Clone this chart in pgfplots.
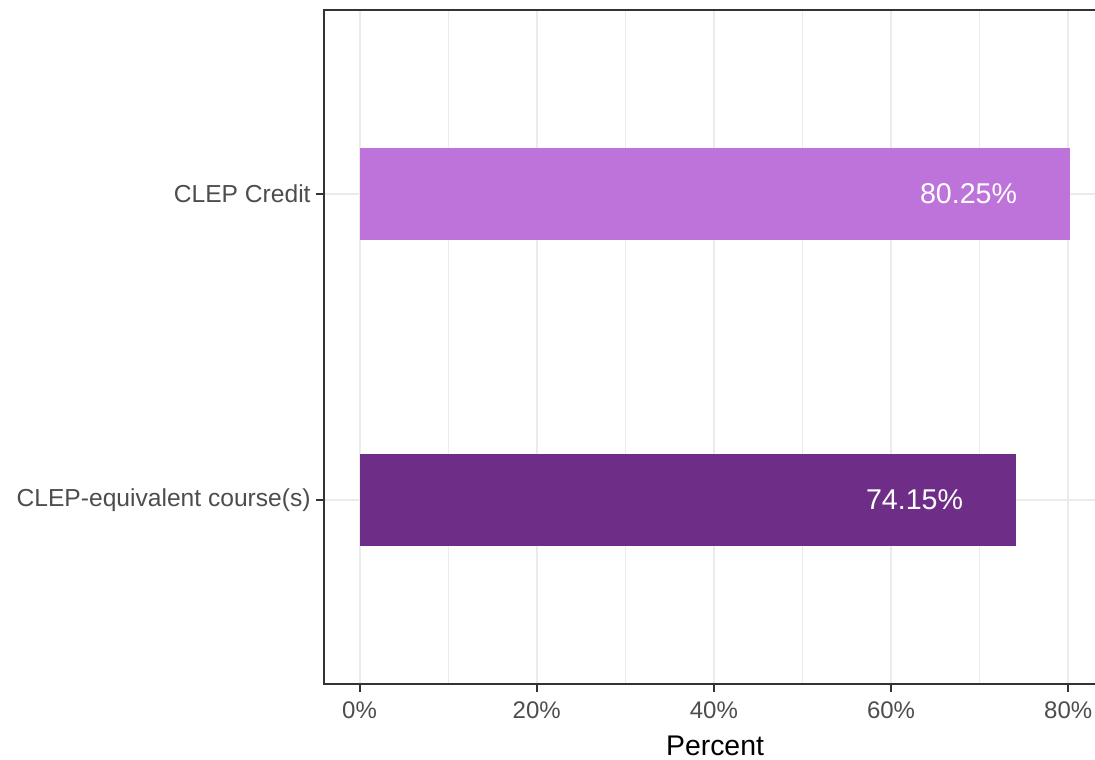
\documentclass[border=0pt]{standalone}
\usepackage{fontspec}
\setmainfont{Liberation Sans}
\usepackage{pgfplots}
\pgfplotsset{compat=1.18}
\definecolor{lightbar}{RGB}{190,115,219}
\definecolor{darkbar}{RGB}{110,45,135}
\definecolor{gridc}{RGB}{235,235,235}
\definecolor{framec}{RGB}{51,51,51}
\definecolor{tickc}{RGB}{77,77,77}
\begin{document}
\begin{tikzpicture}
\useasboundingbox (0,0) rectangle (547.5pt,379.5pt);
\begin{axis}[
  at={(162pt,37.5pt)}, anchor=south west,
  scale only axis, width=391pt, height=337pt,
  xmin=-4.0125, xmax=84.2625, ymin=-0.6, ymax=1.6,
  xtick={0,20,40,60,80}, minor xtick={10,30,50,70},
  xticklabels={0\%,20\%,40\%,60\%,80\%},
  ytick={0,1}, yticklabels={CLEP-equivalent course(s),CLEP Credit},
  xmajorgrids, ymajorgrids, xminorgrids,
  major grid style={gridc, line width=1pt},
  minor grid style={gridc, line width=0.6pt},
  axis line style={framec, line width=1pt},
  tick align=outside, major tick style={framec, line width=1pt},
  major tick length=4pt, minor tick length=0pt,
  xtick pos=left, ytick pos=left,
  xticklabel style={font=\fontsize{12}{14}\selectfont, text=tickc, anchor=north, inner sep=0pt},
  xticklabel shift=4.5pt,
  yticklabel style={font=\fontsize{12.3}{14}\selectfont, text=tickc, anchor=east, inner sep=0pt},
  yticklabel shift=2.5pt,
  xlabel={Percent},
  xlabel style={font=\fontsize{14.2}{16}\selectfont, text=black, at={(axis description cs:0.5,0)}, anchor=base, yshift=-35.6pt, inner sep=0pt},
]
\addplot[xbar, bar width=0.3, bar shift=0pt, fill=lightbar, draw=none,
  nodes near coords, point meta=explicit symbolic,
  nodes near coords align={anchor=east},
  every node near coord/.append style={text=white, font=\fontsize{14.3}{16}\selectfont, anchor=east, xshift=-26.5pt, inner sep=0pt}]
  coordinates {(80.25,1) [80.25\%]};
\addplot[xbar, bar width=0.3, bar shift=0pt, fill=darkbar, draw=none,
  nodes near coords, point meta=explicit symbolic,
  nodes near coords align={anchor=east},
  every node near coord/.append style={text=white, font=\fontsize{14.3}{16}\selectfont, anchor=east, xshift=-26.5pt, inner sep=0pt}]
  coordinates {(74.15,0) [74.15\%]};
\end{axis}
\end{tikzpicture}
\end{document}
